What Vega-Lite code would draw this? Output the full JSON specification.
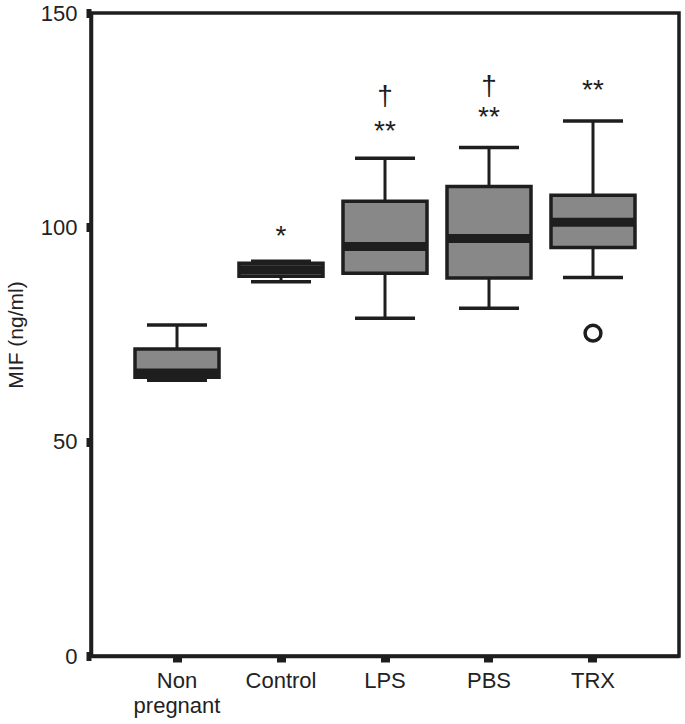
{
  "$schema": "https://vega.github.io/schema/vega-lite/v6.json",
  "autosize": "none",
  "width": 588,
  "height": 643,
  "padding": {"left": 91, "top": 13, "right": 6, "bottom": 68},
  "background": "white",
  "config": {
    "view": {"stroke": "#1e1e1e", "strokeWidth": 3.5},
    "axis": {"grid": false, "labelFont": "Liberation Sans", "titleFont": "Liberation Sans", "labelColor": "#222", "titleColor": "#222", "domainColor": "#1e1e1e", "domainWidth": 3.5, "tickColor": "#1e1e1e"}
  },
  "datasets": {
    "boxes": [
      {"group": "Non pregnant", "min": 64.3, "q1": 65.0, "median": 66.0, "q3": 71.6, "max": 77.2},
      {"group": "Control", "min": 87.3, "q1": 88.6, "median": 90.1, "q3": 91.6, "max": 92.1},
      {"group": "LPS", "min": 78.8, "q1": 89.3, "median": 95.5, "q3": 106.1, "max": 116.1},
      {"group": "PBS", "min": 81.1, "q1": 88.2, "median": 97.4, "q3": 109.5, "max": 118.6},
      {"group": "TRX", "min": 88.3, "q1": 95.3, "median": 101.2, "q3": 107.5, "max": 124.8}
    ],
    "outliers": [
      {"group": "TRX", "value": 75.3}
    ],
    "stars": [
      {"group": "Control", "y": 99.0, "label": "*"},
      {"group": "LPS", "y": 123.4, "label": "**"},
      {"group": "PBS", "y": 126.7, "label": "**"},
      {"group": "TRX", "y": 133.0, "label": "**"}
    ],
    "daggers": [
      {"group": "LPS", "y": 130.4, "label": "†"},
      {"group": "PBS", "y": 132.7, "label": "†"}
    ]
  },
  "encoding": {
    "x": {
      "field": "group",
      "type": "nominal",
      "scale": {"domain": ["Non pregnant", "Control", "LPS", "PBS", "TRX"], "paddingInner": 0, "paddingOuter": 0.327},
      "axis": {
        "title": null,
        "labelAngle": 0,
        "labelFontSize": 22,
        "labelPadding": 8,
        "labelLineHeight": 25,
        "labelBaseline": "top",
        "tickSize": 6,
        "tickWidth": 9,
        "labelExpr": "datum.label == 'Non pregnant' ? ['Non', 'pregnant'] : datum.label"
      }
    }
  },
  "layer": [
    {
      "data": {"name": "boxes"},
      "mark": {"type": "rule", "color": "#1e1e1e", "strokeWidth": 3},
      "encoding": {
        "y": {"field": "min", "type": "quantitative", "scale": {"domain": [0, 150], "nice": false, "zero": true},
          "axis": {"title": "MIF (ng/ml)", "titleFontSize": 21, "titleFontWeight": "normal", "titlePadding": 14, "values": [0, 50, 100, 150], "labelFontSize": 22, "tickSize": 5, "tickWidth": 9, "labelPadding": 9}},
        "y2": {"field": "max"}
      }
    },
    {
      "data": {"name": "boxes"},
      "mark": {"type": "tick", "orient": "horizontal", "size": 60, "thickness": 3.5, "color": "#1e1e1e", "opacity": 1},
      "encoding": {"y": {"field": "min", "type": "quantitative"}}
    },
    {
      "data": {"name": "boxes"},
      "mark": {"type": "tick", "orient": "horizontal", "size": 60, "thickness": 3.5, "color": "#1e1e1e", "opacity": 1},
      "encoding": {"y": {"field": "max", "type": "quantitative"}}
    },
    {
      "data": {"name": "boxes"},
      "mark": {"type": "bar", "size": 84, "fill": "#888888", "stroke": "#1e1e1e", "strokeWidth": 3.5},
      "encoding": {"y": {"field": "q1", "type": "quantitative"}, "y2": {"field": "q3"}}
    },
    {
      "data": {"name": "boxes"},
      "mark": {"type": "tick", "orient": "horizontal", "size": 86, "thickness": 9, "color": "#1e1e1e", "opacity": 1},
      "encoding": {"y": {"field": "median", "type": "quantitative"}}
    },
    {
      "data": {"name": "outliers"},
      "mark": {"type": "point", "shape": "circle", "filled": false, "size": 250, "stroke": "#1e1e1e", "strokeWidth": 3.5, "opacity": 1},
      "encoding": {"y": {"field": "value", "type": "quantitative"}}
    },
    {
      "data": {"name": "stars"},
      "mark": {"type": "text", "font": "Liberation Sans", "fontSize": 28, "baseline": "alphabetic", "align": "center", "dy": 13, "color": "#1e1e1e"},
      "encoding": {"y": {"field": "y", "type": "quantitative"}, "text": {"field": "label"}}
    },
    {
      "data": {"name": "daggers"},
      "mark": {"type": "text", "font": "Liberation Sans", "fontSize": 28, "baseline": "alphabetic", "align": "center", "dy": 8, "color": "#1e1e1e"},
      "encoding": {"y": {"field": "y", "type": "quantitative"}, "text": {"field": "label"}}
    }
  ]
}
